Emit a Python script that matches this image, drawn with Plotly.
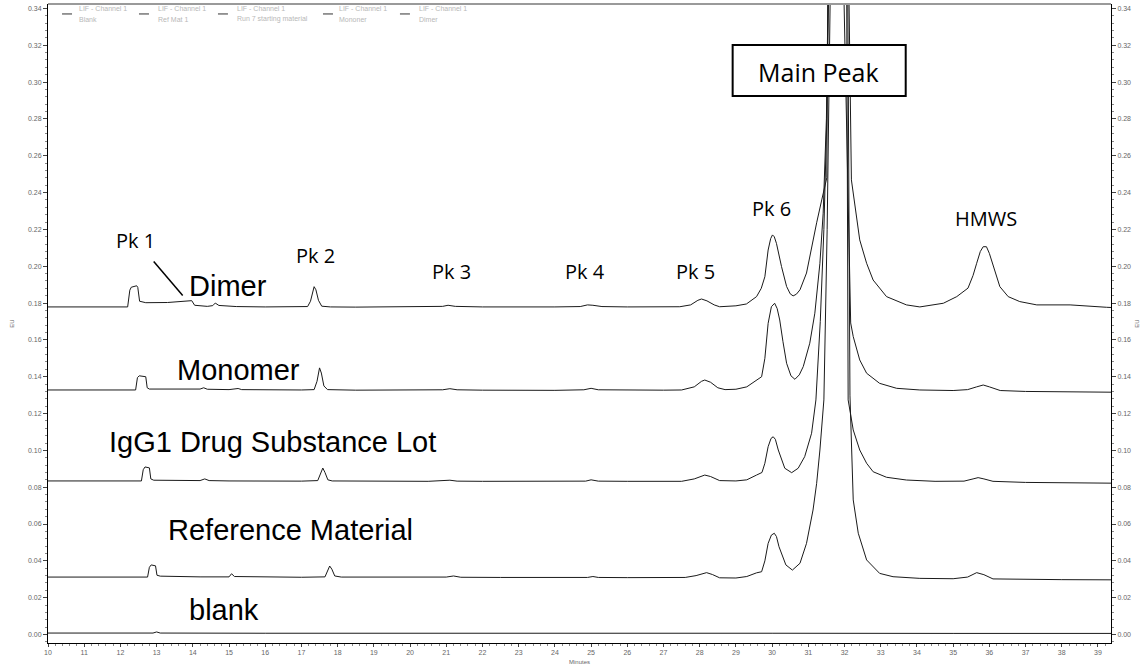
import plotly.graph_objects as go

# ---------------- data (minutes, EU) ----------------
legend_line1 = ["LIF - Channel 1"] * 5
legend_line2 = ["Blank", "Ref Mat 1", "Run 7 starting material", "Mononer", "Dimer"]

blank_t = [10.0, 12.9, 13.0, 13.1, 16.0, 20.0, 25.0, 30.0, 35.0, 39.36]
blank_v = [0.0008, 0.0008, 0.0014, 0.0008, 0.0007, 0.0008, 0.0007, 0.0007, 0.0006, 0.0006]

ref_t = [10.0, 11.0, 12.0, 12.75, 12.80, 12.85, 12.97, 13.01, 13.1, 13.5, 14.2, 15.0, 15.07, 15.15,
         16.0, 17.0, 17.65, 17.72, 17.78, 17.84, 17.92, 18.1, 19.0, 20.0, 21.0, 21.2, 21.4, 22.5,
         24.0, 24.9, 25.05, 25.2, 26.0, 27.0, 27.6, 27.9, 28.1, 28.19, 28.35, 28.55, 29.0, 29.3,
         29.57, 29.71, 29.80, 29.89, 29.98, 30.06, 30.12, 30.19, 30.38, 30.56, 30.77, 30.95, 31.13,
         31.23, 31.32, 31.43, 31.52, 31.59, 31.84, 32.09, 32.15, 32.24, 32.38, 32.61, 32.97, 33.34,
         34.08, 35.0, 35.4, 35.65, 35.85, 36.1, 37.0, 38.0, 39.36]
ref_v = [0.0312, 0.0311, 0.0311, 0.0312, 0.0365, 0.0378, 0.0373, 0.0322, 0.0317, 0.0315, 0.0313,
         0.0313, 0.0330, 0.0315, 0.0312, 0.0311, 0.0313, 0.0345, 0.0372, 0.0355, 0.0318, 0.0312,
         0.0311, 0.0311, 0.0312, 0.0318, 0.0311, 0.0310, 0.0309, 0.0310, 0.0315, 0.0310, 0.0309,
         0.0309, 0.0310, 0.0320, 0.0334, 0.0336, 0.0326, 0.0308, 0.0307, 0.0315, 0.0335, 0.0341,
         0.0400, 0.0495, 0.0540, 0.0550, 0.0532, 0.0477, 0.0378, 0.0350, 0.0387, 0.0495, 0.0676,
         0.0821, 0.1002, 0.1274, 0.2200, 0.3500, 0.7000, 0.3500, 0.1300, 0.0731, 0.0550, 0.0405,
         0.0332, 0.0314, 0.0305, 0.0303, 0.0312, 0.0336, 0.0325, 0.0302, 0.0299, 0.0298, 0.0297]

igg_t = [10.0, 11.0, 12.0, 12.58, 12.63, 12.68, 12.80, 12.84, 12.92, 13.5, 14.2, 14.33, 14.45, 15.0,
         16.0, 17.0, 17.45, 17.53, 17.59, 17.65, 17.73, 17.85, 18.5, 19.5, 20.5, 21.1, 21.3, 22.0,
         23.0, 24.0, 24.85, 25.0, 25.2, 26.0, 27.0, 27.5, 27.85, 28.05, 28.14, 28.3, 28.55, 29.0,
         29.3, 29.57, 29.72, 29.80, 29.89, 29.97, 30.03, 30.09, 30.17, 30.35, 30.54, 30.72, 30.90,
         31.09, 31.21, 31.33, 31.43, 31.51, 31.58, 31.82, 32.06, 32.08, 32.10, 32.24, 32.42, 32.61,
         32.79, 33.16, 33.71, 34.5, 35.3, 35.55, 35.69, 35.85, 36.1, 37.0, 38.0, 39.36]
igg_v = [0.0834, 0.0833, 0.0834, 0.0834, 0.0895, 0.0910, 0.0905, 0.0845, 0.0838, 0.0836, 0.0836,
         0.0845, 0.0836, 0.0834, 0.0833, 0.0833, 0.0836, 0.0875, 0.0904, 0.0880, 0.0840, 0.0834,
         0.0833, 0.0833, 0.0832, 0.0838, 0.0833, 0.0832, 0.0832, 0.0831, 0.0833, 0.0840, 0.0833,
         0.0832, 0.0832, 0.0832, 0.0845, 0.0862, 0.0866, 0.0858, 0.0836, 0.0834, 0.0840, 0.0866,
         0.0880, 0.0930, 0.1020, 0.1065, 0.1074, 0.1060, 0.1002, 0.0903, 0.0879, 0.0903, 0.0966,
         0.1093, 0.1274, 0.1700, 0.2200, 0.2800, 0.3500, 0.7000, 0.3500, 0.2200, 0.1274, 0.1111,
         0.1002, 0.0930, 0.0884, 0.0854, 0.0839, 0.0832, 0.0833, 0.0845, 0.0852, 0.0845, 0.0832,
         0.0826, 0.0824, 0.0822]

mono_t = [10.0, 11.0, 12.0, 12.42, 12.47, 12.52, 12.70, 12.74, 12.80, 13.5, 14.2, 14.3, 14.4, 15.0,
          15.25, 15.35, 16.0, 17.0, 17.35, 17.43, 17.50, 17.55, 17.62, 17.72, 18.5, 19.5, 20.5,
          20.9, 21.1, 21.3, 22.0, 23.0, 24.0, 24.8, 25.0, 25.2, 26.0, 27.0, 27.5, 27.85, 28.05,
          28.14, 28.3, 28.5, 28.7, 29.0, 29.3, 29.57, 29.71, 29.80, 29.89, 29.98, 30.07, 30.14,
          30.21, 30.30, 30.40, 30.52, 30.63, 30.75, 30.86, 31.04, 31.18, 31.32, 31.41, 31.50, 31.57,
          31.78, 31.98, 32.08, 32.17, 32.24, 32.42, 32.61, 32.97, 33.44, 34.08, 35.0, 35.4, 35.65,
          35.83, 36.0, 36.3, 37.0, 38.0, 39.36]
mono_v = [0.1328, 0.1327, 0.1328, 0.1328, 0.1395, 0.1405, 0.1400, 0.1340, 0.1333, 0.1332, 0.1333,
          0.1340, 0.1332, 0.1330, 0.1336, 0.1330, 0.1328, 0.1328, 0.1330, 0.1375, 0.1448, 0.1420,
          0.1350, 0.1330, 0.1327, 0.1327, 0.1327, 0.1329, 0.1335, 0.1329, 0.1327, 0.1326, 0.1326,
          0.1329, 0.1337, 0.1329, 0.1327, 0.1327, 0.1328, 0.1345, 0.1375, 0.1382, 0.1370, 0.1340,
          0.1330, 0.1332, 0.1345, 0.1382, 0.1400, 0.1500, 0.1690, 0.1780, 0.1799, 0.1770, 0.1708,
          0.1590, 0.1473, 0.1405, 0.1386, 0.1410, 0.1455, 0.1582, 0.1745, 0.2016, 0.2288, 0.2800,
          0.3500, 0.7000, 0.3500, 0.2500, 0.1692, 0.1618, 0.1491, 0.1419, 0.1364, 0.1337, 0.1328,
          0.1325, 0.1330, 0.1345, 0.1355, 0.1345, 0.1325, 0.1320, 0.1318, 0.1316]

dimer_t = [10.0, 10.8, 11.6, 12.2, 12.26, 12.3, 12.45, 12.48, 12.53, 12.7, 13.3, 13.9, 13.97, 14.05,
           14.4, 14.55, 14.62, 14.72, 15.2, 16.0, 16.8, 17.17, 17.25, 17.31, 17.35, 17.40, 17.47,
           17.56, 17.8, 18.5, 19.5, 20.5, 20.9, 21.05, 21.25, 22.0, 23.0, 24.0, 24.7, 24.9, 25.05,
           25.3, 26.0, 27.0, 27.45, 27.75, 27.95, 28.05, 28.2, 28.4, 28.55, 29.0, 29.29, 29.57,
           29.70, 29.80, 29.89, 29.96, 30.01, 30.06, 30.12, 30.26, 30.40, 30.50, 30.58, 30.67, 30.77,
           30.95, 31.09, 31.23, 31.37, 31.45, 31.51, 31.54, 31.80, 32.12, 32.19, 32.42, 32.61, 32.79,
           33.16, 33.71, 34.08, 34.73, 35.10, 35.41, 35.55, 35.65, 35.75, 35.83, 35.92, 36.0, 36.11,
           36.29, 36.52, 36.84, 37.31, 38.23, 39.24, 39.36]
dimer_v = [0.1779, 0.1778, 0.1779, 0.1779, 0.1870, 0.1886, 0.1894, 0.1885, 0.1810, 0.1802, 0.1803,
           0.1810, 0.1813, 0.1788, 0.1782, 0.1786, 0.1800, 0.1787, 0.1781, 0.1779, 0.1779, 0.1781,
           0.1810, 0.1868, 0.1889, 0.1872, 0.1815, 0.1783, 0.1779, 0.1778, 0.1779, 0.1779, 0.1782,
           0.1788, 0.1782, 0.1779, 0.1778, 0.1779, 0.1781, 0.1790, 0.1788, 0.1781, 0.1779, 0.1779,
           0.1780, 0.1790, 0.1815, 0.1822, 0.1812, 0.1790, 0.1780, 0.1785, 0.1795, 0.1835, 0.1880,
           0.1943, 0.2088, 0.2150, 0.2170, 0.2160, 0.2124, 0.1998, 0.1890, 0.1850, 0.1839, 0.1848,
           0.1872, 0.1963, 0.2109, 0.2236, 0.2360, 0.2420, 0.2480, 0.3500, 0.7000, 0.3500, 0.2469,
           0.2143, 0.2016, 0.1925, 0.1835, 0.1790, 0.1779, 0.1799, 0.1835, 0.1881, 0.1950, 0.2016,
           0.2080, 0.2106, 0.2106, 0.2070, 0.1998, 0.1889, 0.1835, 0.1808, 0.1790, 0.1790, 0.1777,
           0.1776]

series_t = [blank_t, ref_t, igg_t, mono_t, dimer_t]
series_v = [blank_v, ref_v, igg_v, mono_v, dimer_v]

# annotation labels: (text, minutes, EU)
sample_labels = [("Dimer", 13.83, 0.1893), ("Monomer", 13.50, 0.1437),
                 ("IgG1 Drug Substance Lot", 11.62, 0.1046),
                 ("Reference Material", 13.27, 0.0568), ("blank", 13.83, 0.0133)]
peak_labels = [("Pk 1", 12.42, 0.2138), ("Pk 2", 17.39, 0.2056), ("Pk 3", 21.15, 0.1969),
               ("Pk 4", 24.82, 0.1969), ("Pk 5", 27.89, 0.1969), ("Pk 6", 29.99, 0.2316),
               ("HMWS", 35.90, 0.2257)]
main_peak_label = ("Main Peak", 31.29, 0.3055)
main_box = (28.91, 33.69, 0.2925, 0.3202)
pk1_pointer = (12.92, 0.2026, 13.72, 0.1841)

# legend layout in paper fractions (line sample start / text start)
legend_line_x = [0.0132, 0.0856, 0.1599, 0.2587, 0.3311]
legend_text_x = [0.0282, 0.1025, 0.1769, 0.2728, 0.3481]

x_range = [10.0, 39.36]
y_range = [-0.0046, 0.3424]

# ---------------- figure ----------------
fig = go.Figure()
for i, (l2, t, v) in enumerate(zip(legend_line2, series_t, series_v)):
    fig.add_trace(go.Scatter(
        x=t, y=v, mode="lines", name=l2,
        line=dict(color="#1a1a1a", width=1),
        yaxis="y2" if i == 0 else "y",
        hoverinfo="x+y+name",
    ))

axis_font = dict(family="Liberation Sans, Arial, sans-serif", size=7, color="#666666")
small_title = dict(family="Liberation Sans, Arial, sans-serif", size=6, color="#666")

fig.update_layout(
    width=1143, height=668,
    margin=dict(l=48, r=32, t=4, b=25, autoexpand=False),
    paper_bgcolor="white", plot_bgcolor="white",
    showlegend=False,
    xaxis=dict(range=x_range, tick0=10, dtick=1, ticks="outside", ticklen=3, tickcolor="#444",
               showline=True, linecolor="black", linewidth=1, showgrid=False, zeroline=False,
               tickfont=axis_font,
               minor=dict(ticks="outside", ticklen=2, dtick=0.2, tickcolor="#888"),
               title=dict(text="Minutes", standoff=4, font=small_title)),
    yaxis=dict(range=y_range, tick0=0, dtick=0.02, tickformat=".2f", ticks="outside", ticklen=4,
               tickcolor="#444", showline=True, linecolor="black", linewidth=1, showgrid=False,
               zeroline=False, tickfont=axis_font,
               minor=dict(ticks="outside", ticklen=2, dtick=0.004, tickcolor="#888"),
               title=dict(text="EU", standoff=12, font=small_title)),
    yaxis2=dict(range=y_range, overlaying="y", side="right", matches="y", tick0=0, dtick=0.02,
                tickformat=".2f", ticks="outside", ticklen=4, tickcolor="#444", showline=True,
                linecolor="black", linewidth=1, showgrid=False, zeroline=False, tickfont=axis_font,
                minor=dict(ticks="outside", ticklen=2, dtick=0.004, tickcolor="#888"),
                title=dict(text="EU", standoff=4, font=small_title)),
)

# grey top border
fig.add_shape(type="line", xref="paper", yref="paper", x0=0, x1=1, y0=1, y1=1,
              line=dict(color="#9a9a9a", width=2), layer="above")

# legend drawn as short line samples plus two-line grey captions
for lx, tx, l1, l2 in zip(legend_line_x, legend_text_x, legend_line1, legend_line2):
    fig.add_shape(type="line", xref="paper", yref="paper", x0=lx, x1=lx + 0.0094,
                  y0=0.9844, y1=0.9844, line=dict(color="#333", width=1), layer="above")
    fig.add_annotation(text=l1, xref="paper", yref="paper", x=tx, y=0.9937, xanchor="left",
                       yanchor="middle", showarrow=False, borderpad=0,
                       font=dict(family="Liberation Sans, Arial, sans-serif", size=7, color="#b8b8b8"))
    fig.add_annotation(text=l2, xref="paper", yref="paper", x=tx, y=0.9765, xanchor="left",
                       yanchor="middle", showarrow=False, borderpad=0,
                       font=dict(family="Liberation Sans, Arial, sans-serif", size=7, color="#b8b8b8"))

# main peak box
bx0, bx1, by0, by1 = main_box
fig.add_shape(type="rect", xref="x", yref="y", x0=bx0, x1=bx1, y0=by0, y1=by1,
              fillcolor="white", line=dict(color="black", width=2), layer="above")
fig.add_annotation(text=main_peak_label[0], x=main_peak_label[1], y=main_peak_label[2],
                   xref="x", yref="y", showarrow=False,
                   font=dict(family="Open Sans, sans-serif", size=25, color="black"))

# Pk 1 pointer
px0, py0, px1, py1 = pk1_pointer
fig.add_shape(type="line", xref="x", yref="y", x0=px0, y0=py0, x1=px1, y1=py1,
              line=dict(color="black", width=1.5), layer="above")

for text, t, v in peak_labels:
    fig.add_annotation(text=text, x=t, y=v, xref="x", yref="y", showarrow=False,
                       font=dict(family="Open Sans, sans-serif", size=20, color="black"))

for text, t, v in sample_labels:
    fig.add_annotation(text=text, x=t, y=v, xref="x", yref="y", showarrow=False,
                       xanchor="left",
                       font=dict(family="Liberation Sans, Arial, sans-serif", size=29, color="black"))

fig.write_html("out.html")
